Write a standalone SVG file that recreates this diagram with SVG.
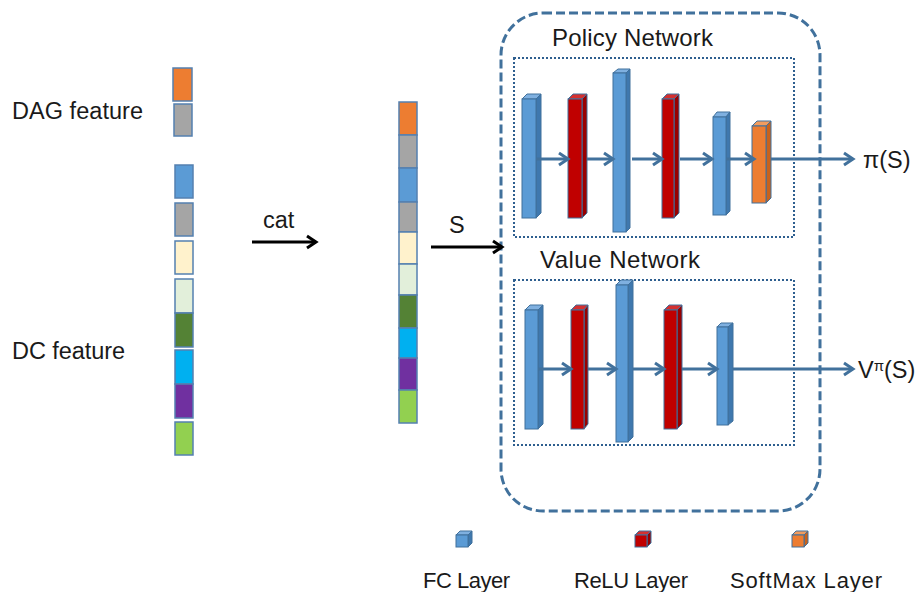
<svg xmlns="http://www.w3.org/2000/svg" width="919" height="592" viewBox="0 0 919 592">
<defs>
<style>
text{font-family:"Liberation Sans",Arial,sans-serif;fill:#1a1a1a}
.lbl{font-size:23.5px}
.net{font-size:24px}
.leg{font-size:22px}
.blk{stroke:#5480B0;stroke-width:1.5}
.conn{stroke:#41719C;stroke-width:3;fill:none}
.blackarr{stroke:#000;stroke-width:3;fill:none}
.outer{fill:none;stroke:#41719C;stroke-width:3;stroke-dasharray:9 4}
.inner{fill:none;stroke:#2E5F8F;stroke-width:2;stroke-dasharray:2 2}
.fcF{fill:#5B9BD5;stroke:#41719C;stroke-width:1}
.fcS{fill:#3F78AE;stroke:#41719C;stroke-width:1}
.fcT{fill:#7FB0E0;stroke:#41719C;stroke-width:1}
.reF{fill:#C00000;stroke:#41719C;stroke-width:1}
.reS{fill:#9A0000;stroke:#41719C;stroke-width:1}
.reT{fill:#D43030;stroke:#41719C;stroke-width:1}
.smF{fill:#ED7D31;stroke:#41719C;stroke-width:1}
.smS{fill:#C8621C;stroke:#41719C;stroke-width:1}
.smT{fill:#F29C5E;stroke:#41719C;stroke-width:1}
</style>
<marker id="hb" markerUnits="userSpaceOnUse" markerWidth="16" markerHeight="16" viewBox="0 0 16 16" refX="13" refY="8" orient="auto">
<path d="M4,2 L13,8 L4,14" fill="none" stroke="#41719C" stroke-width="3"/>
</marker>
<marker id="hk" markerUnits="userSpaceOnUse" markerWidth="16" markerHeight="16" viewBox="0 0 16 16" refX="13" refY="8" orient="auto">
<path d="M4,2 L13,8 L4,14" fill="none" stroke="#000" stroke-width="3"/>
</marker>
</defs>
<rect width="919" height="592" fill="#fff"/>

<g id="dag-feature">
<text class="lbl" x="12" y="119" textLength="131">DAG feature</text>
<rect class="blk" x="173" y="68" width="19" height="33" fill="#ED7D31"/>
<rect class="blk" x="174" y="104" width="18" height="32" fill="#A5A5A5"/>
</g>
<g id="dc-feature">
<text class="lbl" x="12" y="359" textLength="113">DC feature</text>
<rect class="blk" x="175" y="165" width="18" height="33" fill="#5B9BD5"/>
<rect class="blk" x="175" y="203" width="18" height="33" fill="#A5A5A5"/>
<rect class="blk" x="175" y="241" width="18" height="33" fill="#FFF2CC"/>
<rect class="blk" x="175" y="279" width="18" height="34" fill="#E2EFDA"/>
<rect class="blk" x="175" y="313" width="18" height="34" fill="#548235"/>
<rect class="blk" x="175" y="350" width="18" height="34" fill="#00B0F0"/>
<rect class="blk" x="175" y="384" width="18" height="34" fill="#7030A0"/>
<rect class="blk" x="175" y="422" width="18" height="33" fill="#92D050"/>
</g>

<g id="state-vector">
<rect class="blk" x="399" y="102" width="18" height="33" fill="#ED7D31"/>
<rect class="blk" x="399" y="135" width="18" height="33" fill="#A5A5A5"/>
<rect class="blk" x="399" y="168" width="18" height="34" fill="#5B9BD5"/>
<rect class="blk" x="399" y="202" width="18" height="30" fill="#A5A5A5"/>
<rect class="blk" x="399" y="232" width="18" height="32" fill="#FFF2CC"/>
<rect class="blk" x="399" y="264" width="18" height="31" fill="#E2EFDA"/>
<rect class="blk" x="399" y="295" width="18" height="33" fill="#548235"/>
<rect class="blk" x="399" y="328" width="18" height="30" fill="#00B0F0"/>
<rect class="blk" x="399" y="358" width="18" height="32" fill="#7030A0"/>
<rect class="blk" x="399" y="390" width="18" height="33" fill="#92D050"/>
</g>

<g id="actor-critic">
<rect class="outer" x="501" y="13" width="319" height="498" rx="42" ry="42"/>
</g>

<g id="policy-network">
<rect class="inner" x="514" y="58" width="280" height="179"/>
<text class="net" x="552" y="46" textLength="161">Policy Network</text>
<polygon class="fcT" points="522,99 527,94 541,94 536,99"/>
<polygon class="fcS" points="536,99 541,94 541,213 536,218"/>
<rect class="fcF" x="522" y="99" width="14" height="119"/>
<polygon class="reT" points="568,99 573,94 587,94 582,99"/>
<polygon class="reS" points="582,99 587,94 587,213 582,218"/>
<rect class="reF" x="568" y="99" width="14" height="119"/>
<polygon class="fcT" points="613,73 618,69 630,69 626,73"/>
<polygon class="fcS" points="626,73 630,69 630,228 626,232"/>
<rect class="fcF" x="613" y="73" width="13" height="159"/>
<polygon class="reT" points="662,99 667,94 679,94 674,99"/>
<polygon class="reS" points="674,99 679,94 679,213 674,218"/>
<rect class="reF" x="662" y="99" width="12" height="119"/>
<polygon class="fcT" points="713,117 717,112 730,112 726,117"/>
<polygon class="fcS" points="726,117 730,112 730,211 726,215"/>
<rect class="fcF" x="713" y="117" width="13" height="98"/>
<polygon class="smT" points="752,126 757,121 771,121 766,126"/>
<polygon class="smS" points="766,126 771,121 771,198 766,203"/>
<rect class="smF" x="752" y="126" width="14" height="77"/>
</g>

<g id="value-network">
<rect class="inner" x="514" y="280" width="280" height="165"/>
<text class="net" x="540" y="268" textLength="160">Value Network</text>
<polygon class="fcT" points="525,310 530,305 543,305 538,310"/>
<polygon class="fcS" points="538,310 543,305 543,424 538,429"/>
<rect class="fcF" x="525" y="310" width="13" height="119"/>
<polygon class="reT" points="571,310 576,305 588,305 584,310"/>
<polygon class="reS" points="584,310 588,305 588,424 584,429"/>
<rect class="reF" x="571" y="310" width="13" height="119"/>
<polygon class="fcT" points="616,285 621,280 633,280 628,285"/>
<polygon class="fcS" points="628,285 633,280 633,437 628,442"/>
<rect class="fcF" x="616" y="285" width="12" height="157"/>
<polygon class="reT" points="664,310 669,305 682,305 677,310"/>
<polygon class="reS" points="677,310 682,305 682,424 677,429"/>
<rect class="reF" x="664" y="310" width="13" height="119"/>
<polygon class="fcT" points="717,327 721,323 733,323 728,327"/>
<polygon class="fcS" points="728,327 733,323 733,421 728,425"/>
<rect class="fcF" x="717" y="327" width="11" height="98"/>
</g>

<g id="connectors">
<line class="blackarr" x1="252" y1="242" x2="316" y2="242" marker-end="url(#hk)"/>
<line class="blackarr" x1="431" y1="247" x2="502" y2="247" marker-end="url(#hk)"/>
<line class="conn" x1="536" y1="159" x2="568" y2="159" marker-end="url(#hb)"/>
<line class="conn" x1="587" y1="159" x2="613" y2="159" marker-end="url(#hb)"/>
<line class="conn" x1="632" y1="159" x2="662" y2="159" marker-end="url(#hb)"/>
<line class="conn" x1="680" y1="159" x2="712" y2="159" marker-end="url(#hb)"/>
<line class="conn" x1="726" y1="159" x2="754" y2="159" marker-end="url(#hb)"/>
<line class="conn" x1="771" y1="159" x2="853" y2="159" marker-end="url(#hb)"/>
<line class="conn" x1="538" y1="369" x2="571" y2="369" marker-end="url(#hb)"/>
<line class="conn" x1="588" y1="369" x2="616" y2="369" marker-end="url(#hb)"/>
<line class="conn" x1="633" y1="369" x2="664" y2="369" marker-end="url(#hb)"/>
<line class="conn" x1="682" y1="369" x2="717" y2="369" marker-end="url(#hb)"/>
<line class="conn" x1="733" y1="369" x2="853" y2="369" marker-end="url(#hb)"/>
</g>

<g id="labels">
<text class="lbl" x="263" y="228">cat</text>
<text class="lbl" x="449" y="233">S</text>
<text class="lbl" x="863" y="168">π(S)</text>
<text class="lbl" x="858" y="378">V<tspan font-size="15" dy="-7">π</tspan><tspan dy="7">(S)</tspan></text>
</g>

<g id="legend">
<g id="legend-fc">
<polygon class="fcT" points="456,535 460,531 472,531 468,535"/>
<polygon class="fcS" points="468,535 472,531 472,543 468,547"/>
<rect class="fcF" x="456" y="535" width="12" height="12"/>
<text class="leg" x="423" y="588" textLength="87">FC Layer</text>
</g>
<g id="legend-relu">
<polygon class="reT" points="635,535 639,531 651,531 647,535"/>
<polygon class="reS" points="647,535 651,531 651,543 647,547"/>
<rect class="reF" x="635" y="535" width="12" height="12"/>
<text class="leg" x="574" y="588" textLength="114">ReLU Layer</text>
</g>
<g id="legend-softmax">
<polygon class="smT" points="792,535 796,531 808,531 804,535"/>
<polygon class="smS" points="804,535 808,531 808,543 804,547"/>
<rect class="smF" x="792" y="535" width="12" height="12"/>
<text class="leg" x="730" y="588" textLength="152">SoftMax Layer</text>
</g>
</g>
</svg>
